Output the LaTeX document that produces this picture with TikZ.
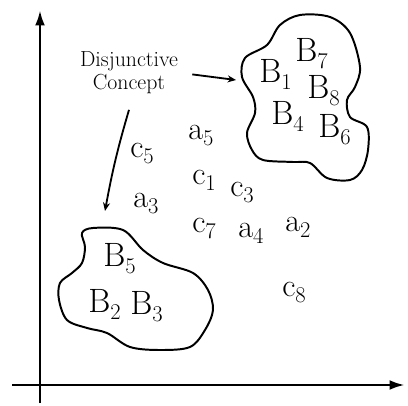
\documentclass[tikz,border=0pt]{standalone}
\usepackage{amsmath,amssymb}
\usepackage{tikz}
\usetikzlibrary{arrows.meta,positioning,calc}
\tikzset{
  axisarr/.style={-{Latex[length=11pt,width=7pt]}, line width=2pt},
  conarr/.style={-{Stealth[length=6pt,width=5pt]}, line width=1.3pt},
  blob/.style={line width=1.4pt},
  bigsym/.style={font=\fontsize{24}{24}\selectfont, inner sep=0pt, anchor=base west},
  smallsym/.style={font=\fontsize{23}{23}\selectfont, inner sep=0pt, anchor=base west},
}
\newcommand{\sym}[2]{#1\raisebox{-0.18em}{\fontsize{16}{16}\selectfont #2}}

\begin{document}
\begin{tikzpicture}[x=0.025cm, y=-0.025cm]
  \useasboundingbox (0,0) rectangle (408,406);
  % axes
  \coordinate (ytop) at (40,10);
  \coordinate (xend) at (405,385);
  \draw[axisarr] (40,403) -- (ytop);
  \draw[axisarr] (12,385) -- (xend);

  % right cluster
  \draw[blob] plot[smooth cycle, tension=0.55] coordinates {
    (245,58) (267,45) (280,25) (300,15) (330,17) (350,33) (360,67)
    (355,87) (347,100) (350,117) (367,127) (368,150) (362,170)
    (350,180) (327,178) (310,163) (293,162) (263,160) (252,150)
    (247,133) (255,113) (253,97) (242,77)};
  \node[bigsym] (b7) at (295,62) {\sym{B}{7}};
  \node[bigsym] (b1) at (259,83) {\sym{B}{1}};
  \node[bigsym] (b8) at (307,99) {\sym{B}{8}};
  \node[bigsym] (b4) at (271,125) {\sym{B}{4}};
  \node[bigsym] (b6) at (318,138) {\sym{B}{6}};

  % left cluster
  \draw[blob] plot[smooth cycle, tension=0.55] coordinates {
    (82,233) (93,228) (123,230) (143,250) (163,263) (193,273)
    (208,290) (213,310) (205,330) (190,347) (160,350) (130,347)
    (107,333) (87,328) (67,320) (59,300) (60,283) (72,273)
    (82,263) (85,247)};
  \node[bigsym] (b5) at (103,267) {\sym{B}{5}};
  \node[bigsym] (b2) at (88,313) {\sym{B}{2}};
  \node[bigsym] (b3) at (130,315) {\sym{B}{3}};

  % scattered instances
  \node[smallsym] (a5) at (188,140) {\sym{a}{5}};
  \node[smallsym] (c5) at (130,158) {\sym{c}{5}};
  \node[smallsym] (c1) at (192,185) {\sym{c}{1}};
  \node[smallsym] (c3) at (230,197) {\sym{c}{3}};
  \node[smallsym] (a3) at (133,208) {\sym{a}{3}};
  \node[smallsym] (c7) at (192,233) {\sym{c}{7}};
  \node[smallsym] (a4) at (238,238) {\sym{a}{4}};
  \node[smallsym] (a2) at (285,232) {\sym{a}{2}};
  \node[smallsym] (c8) at (282,297) {\sym{c}{8}};

  % label and its arrows
  \node[align=center, font=\fontsize{15.5}{16.4}\selectfont, inner sep=2pt]
    (disj) at (129,73) {Disjunctive\\Concept};
  \coordinate (tipR) at (236,80);
  \coordinate (tipL) at (105,211);
  \draw[conarr] ([xshift=8pt,yshift=-1pt]disj.east) -- (tipR);
  \draw[conarr] ([yshift=-9pt]disj.south) to[bend right=3] (tipL);
\end{tikzpicture}
\end{document}
